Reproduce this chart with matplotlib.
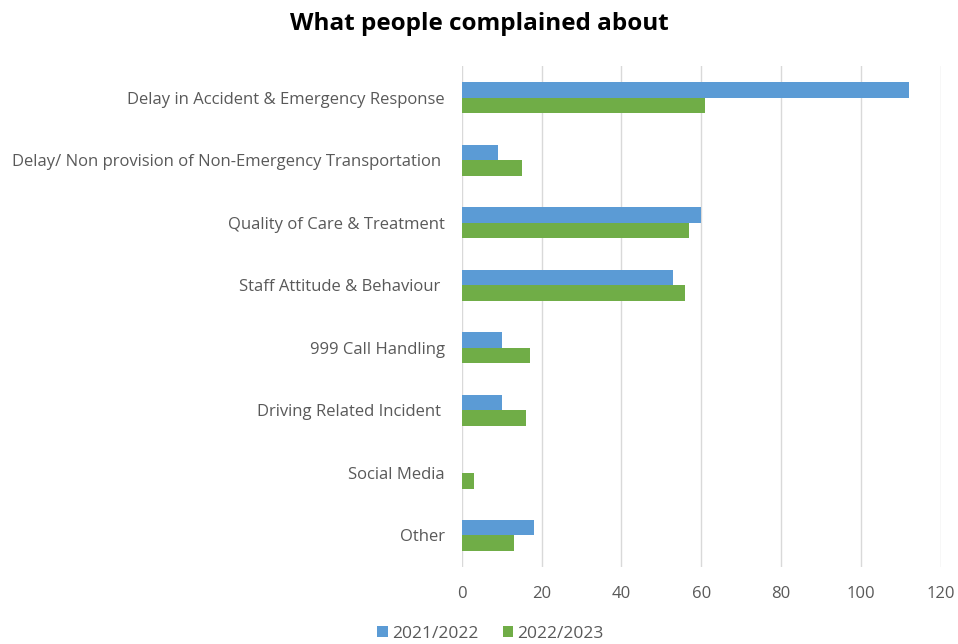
import matplotlib
matplotlib.use("Agg")
import matplotlib.pyplot as plt
import numpy as np

categories = [
    "Delay in Accident & Emergency Response",
    "Delay/ Non provision of Non-Emergency Transportation ",
    "Quality of Care & Treatment",
    "Staff Attitude & Behaviour ",
    "999 Call Handling",
    "Driving Related Incident ",
    "Social Media",
    "Other",
]
series_names = ["2021/2022", "2022/2023"]
values_2021 = [112, 9, 60, 53, 10, 10, 0, 18]
values_2022 = [61, 15, 57, 56, 17, 16, 3, 13]
xticks = [0, 20, 40, 60, 80, 100, 120]

plt.rcParams["font.family"] = ["Open Sans", "DejaVu Sans"]

blue = "#5B9BD5"
green = "#70AD47"
text_col = "#595959"

fig = plt.figure(figsize=(9.58, 6.44), dpi=100)
ax = fig.add_axes([0.482, 0.12, 0.5, 0.777])

y = np.arange(len(categories))
h = 0.25
ax.barh(y - h / 2, values_2021, height=h, color=blue, label=series_names[0])
ax.barh(y + h / 2, values_2022, height=h, color=green, label=series_names[1])

ax.set_xlim(0, 120)
ax.set_ylim(len(categories) - 0.5, -0.5)
ax.set_xticks(xticks)
ax.set_yticks(y)
ax.set_yticklabels(categories, fontsize=12, color=text_col)
ax.tick_params(axis="x", labelsize=12, labelcolor=text_col, length=0, pad=14)
ax.tick_params(axis="y", length=0, pad=12)
ax.grid(axis="x", color="#d9d9d9", linewidth=1)
ax.set_axisbelow(True)
for s in ax.spines.values():
    s.set_visible(False)

fig.text(0.5, 0.963, "What people complained about", ha="center", va="center",
         fontsize=17.5, fontweight="bold", color="#000000")

leg = fig.legend(loc="center", bbox_to_anchor=(0.512, 0.016), ncol=2, frameon=False,
                 fontsize=12.5, handlelength=0.6, handleheight=0.6, handletextpad=0.25,
                 columnspacing=1.4)
for t in leg.get_texts():
    t.set_color(text_col)

fig.savefig("out.png", dpi=100)
